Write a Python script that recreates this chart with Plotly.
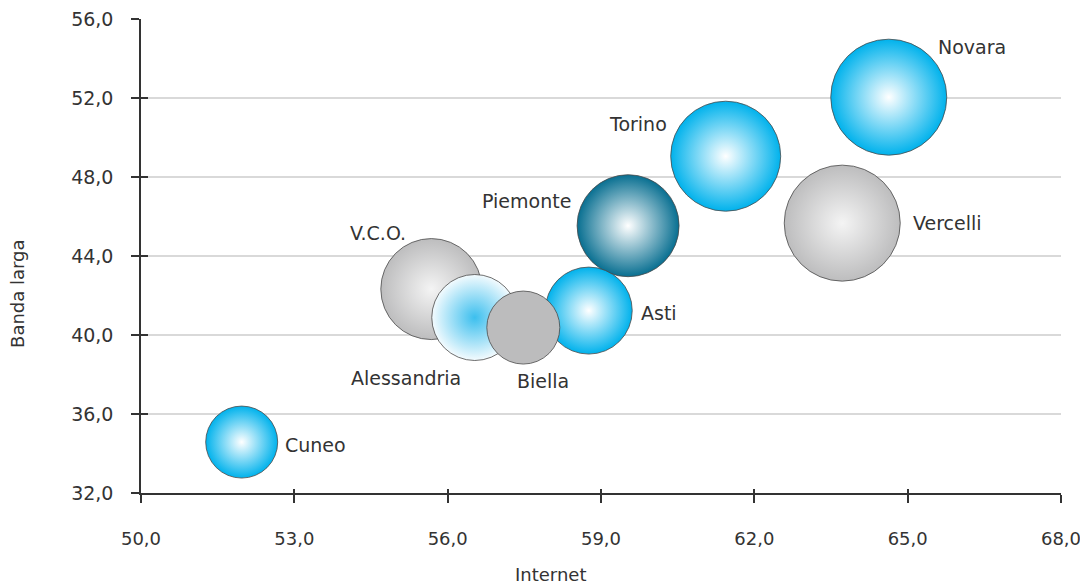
import plotly.graph_objects as go

# Province piemontesi: % utenti Internet vs % banda larga
province = ["Novara", "Vercelli", "Torino", "Piemonte", "V.C.O.",
            "Alessandria", "Asti", "Biella", "Cuneo"]
internet = [64.63, 63.72, 61.44, 59.53, 55.68, 56.53, 58.76, 57.48, 51.97]
banda_larga = [52.05, 45.67, 49.06, 45.54, 42.33, 40.89, 41.24, 40.38, 34.58]
dimensione = [116, 116, 110, 102, 101, 86, 87, 73, 72]

x_ticks = [50, 53, 56, 59, 62, 65, 68]
y_ticks = [32, 36, 40, 44, 48, 52, 56]

FONT = "DejaVu Sans"
TEXT_COLOR = "#333333"
AXIS_COLOR = "#333333"

# stile bolle: (colore esterno, colore centro, tipo gradiente)
BLUE = ("#00b2ec", "#ffffff", "radial")
GRAY = ("#bdbdbe", "#f4f4f4", "radial")
STYLE = {
    "Novara": BLUE,
    "Vercelli": GRAY,
    "Torino": BLUE,
    "Piemonte": ("#086f91", "#ffffff", "radial"),
    "V.C.O.": GRAY,
    "Alessandria": ("#f4fbfe", "#3cbfee", "radial"),
    "Asti": BLUE,
    "Biella": ("#bcbcbd", "#bcbcbd", "none"),
    "Cuneo": BLUE,
}

# spostamento etichette (px) rispetto al centro della bolla
LABEL_SHIFT = {
    "Novara": (83, 50),
    "Vercelli": (105, 0),
    "Torino": (-88, 32),
    "Piemonte": (-102, 25),
    "V.C.O.": (-53, 56),
    "Alessandria": (-69, -60),
    "Asti": (70, -2),
    "Biella": (20, -53),
    "Cuneo": (74, -3),
}

fig = go.Figure()

for name, x, y, s in zip(province, internet, banda_larga, dimensione):
    outer, inner, gtype = STYLE[name]
    fig.add_trace(go.Scatter(
        x=[x], y=[y],
        mode="markers",
        name=name,
        marker=dict(
            size=s,
            sizemode="diameter",
            color=outer,
            opacity=1,
            gradient=dict(type=gtype, color=inner),
            line=dict(color="#4a4a4a", width=0.8),
        ),
        hoverinfo="skip",
    ))
    dx, dy = LABEL_SHIFT[name]
    fig.add_annotation(
        x=x, y=y, text=name, showarrow=False,
        xshift=dx, yshift=dy,
        font=dict(family=FONT, size=19, color=TEXT_COLOR),
    )

# asse "ombra" per avere tacche che attraversano gli assi
fig.add_trace(go.Scatter(
    x=[None], y=[None], xaxis="x2", yaxis="y2",
    mode="markers", showlegend=False, hoverinfo="skip",
))

fig.add_annotation(
    text="Internet", xref="paper", yref="paper",
    x=0.4446, y=-0.171, showarrow=False,
    xanchor="center", yanchor="middle",
    font=dict(family=FONT, size=18, color=TEXT_COLOR),
)
fig.add_annotation(
    text="Banda larga", xref="paper", yref="paper",
    x=-0.1337, y=0.422, showarrow=False, textangle=-90,
    xanchor="center", yanchor="middle",
    font=dict(family=FONT, size=18, color=TEXT_COLOR),
)

x_range = [50, 68]
y_range = [32, 56.01]

fig.update_layout(
    width=1080, height=576,
    margin=dict(l=133, r=27, t=11, b=91),
    paper_bgcolor="white",
    plot_bgcolor="white",
    showlegend=False,
    separators=",.",
    font=dict(family=FONT, size=19, color=TEXT_COLOR),
    xaxis=dict(
        range=x_range, tickvals=x_ticks, tickformat=".1f",
        tickfont=dict(size=18),
        showgrid=False, zeroline=False, automargin=False,
        showline=True, linecolor=AXIS_COLOR, linewidth=1.5,
        ticks="outside", ticklen=8, tickwidth=1.5, tickcolor=AXIS_COLOR,
        ticklabelstandoff=21, ticklabeloverflow="allow",
    ),
    yaxis=dict(
        range=y_range, tickvals=y_ticks, tickformat=".1f",
        showgrid=True, gridcolor="#d9d9d9", gridwidth=1.5,
        zeroline=False, automargin=False,
        showline=True, linecolor=AXIS_COLOR, linewidth=1.5,
        ticks="outside", ticklen=8, tickwidth=1.5, tickcolor=AXIS_COLOR,
        ticklabelstandoff=14, ticklabeloverflow="allow",
    ),
    xaxis2=dict(
        range=x_range, tickvals=x_ticks, overlaying="x", anchor="y2",
        side="bottom", showgrid=False, zeroline=False, showline=False,
        showticklabels=False, automargin=False,
        ticks="inside", ticklen=4, tickwidth=1.5, tickcolor=AXIS_COLOR,
    ),
    yaxis2=dict(
        range=y_range, tickvals=y_ticks, overlaying="y", anchor="x2",
        side="left", showgrid=False, zeroline=False, showline=False,
        showticklabels=False, automargin=False,
        ticks="inside", ticklen=7, tickwidth=1.5, tickcolor=AXIS_COLOR,
    ),
)

fig.write_html("out.html")
